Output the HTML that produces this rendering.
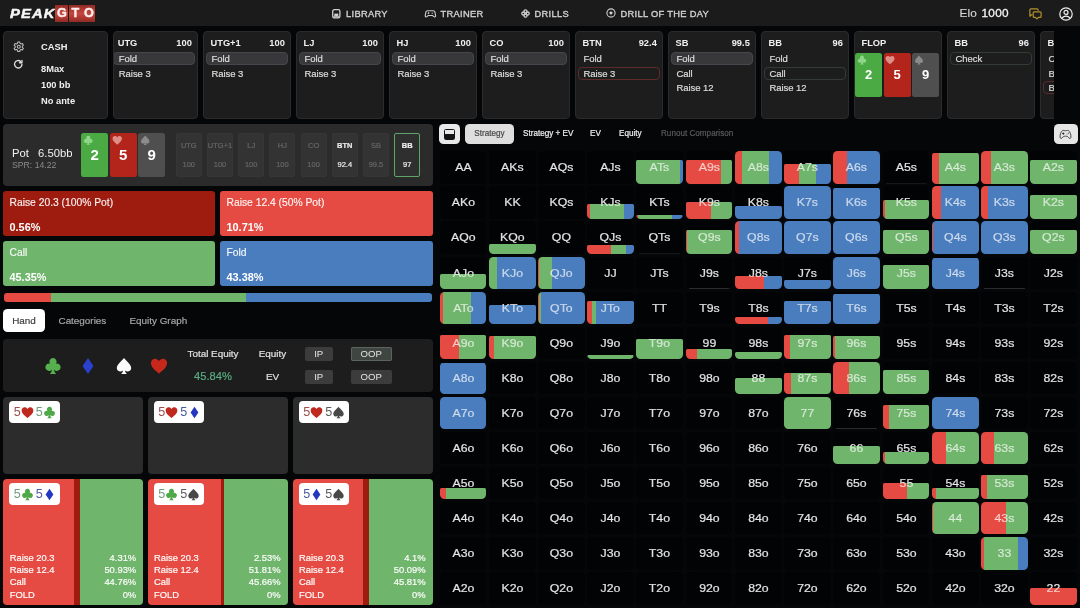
<!DOCTYPE html>
<html lang="en">
<head>
<meta charset="utf-8">
<title>PeakGTO</title>
<style>
*{box-sizing:border-box;margin:0;padding:0}
html,body{width:1080px;height:608px;overflow:hidden;background:#050608}
body{font-family:"Liberation Sans",Arial,sans-serif;color:#e6e6e6;position:relative;-webkit-font-smoothing:antialiased}
.abs{position:absolute}
svg{display:block;position:absolute;overflow:visible}
/* header */
#hdr{position:absolute;left:0;top:0;width:1080px;height:26px;background:#1b1b1c}
.logo{position:absolute;left:9.6px;top:5px;height:17px;font-weight:bold;font-size:14.5px;line-height:17px;white-space:nowrap}
.logo .pk{position:absolute;left:0;top:.4px;font-style:italic;font-size:12.8px;letter-spacing:.9px;color:#f6f6f6;transform:scaleX(1.16);transform-origin:0 50%;-webkit-text-stroke:.45px #f6f6f6}
.logo .g{position:absolute;top:0;width:13px;height:17px;background:linear-gradient(180deg,#8f2b26 0,#b63a32 30%,#c2473e 50%,#b63a32 70%,#8f2b26 100%);color:#fdf0ee;text-align:center;font-size:12.6px;line-height:17.6px;-webkit-text-stroke:.4px #fdf0ee}
.nav{position:absolute;top:0;height:26px;line-height:29.4px;font-size:9.3px;color:#d2d2d2;letter-spacing:.32px;white-space:nowrap;-webkit-text-stroke:.35px #d2d2d2}
.elo{position:absolute;left:959.5px;top:0;height:26px;line-height:26px;font-size:11.8px;color:#d6d6d6;white-space:nowrap;letter-spacing:.1px;-webkit-text-stroke:.15px}
.elo b{color:#f4f4f4;font-weight:normal;margin-left:1.2px;letter-spacing:.3px;-webkit-text-stroke:.3px #f4f4f4}
/* top cards */
.tc{position:absolute;top:31px;height:88px;width:88px;background:#1d1d1e;border:1px solid #2a2b2d;border-radius:4px;overflow:hidden}
.tc .t{position:absolute;left:6.5px;top:5px;font-size:9.3px;line-height:13px;font-weight:bold;color:#f0f0f0;white-space:nowrap}
.tc .v{position:absolute;right:5.2px;top:5px;font-size:9.3px;line-height:13px;font-weight:bold;color:#f0f0f0;white-space:nowrap}
.tc .r{position:absolute;left:1.7px;right:2.4px;height:13px;border-radius:4px;font-size:9.5px;line-height:12.5px;padding-left:4.8px;letter-spacing:-.05px;-webkit-text-stroke:.2px #dcdcdc;color:#dcdcdc;white-space:nowrap;border:1px solid transparent}
.tc .r1{top:20px}.tc .r2{top:34.5px}.tc .r3{top:49.3px}
.tc .sel{background:#38383b;border-color:#45474d}
.tc .rb{border-color:#5e2a2a}
.tc .gb{border-color:#343b36}
.fc{position:absolute;top:20.5px;width:14px;height:44.5px;border-radius:2.5px;color:#fff;font-weight:bold;font-size:13px;text-align:center;line-height:14px;padding-top:15.5px}
/* pot panel */
#pot{position:absolute;left:3px;top:124px;width:430px;height:62px;background:#2b2b2b;border-radius:4px}
.bc{position:absolute;top:9px;width:27px;height:44px;border-radius:2.5px;color:#fff;font-weight:bold;font-size:15px;text-align:center;line-height:16px;padding-top:13.5px}
.chip{position:absolute;top:9px;width:26px;height:44px;border-radius:2px;background:#333;border:1px solid #363636;color:#666;-webkit-text-stroke:.2px;font-size:7.5px;text-align:center;line-height:8px}
.chip span{position:absolute;left:-2px;right:-2px;white-space:nowrap}
.chip .a{top:8px}.chip .b{top:27px}
/* actions */
.act{position:absolute;width:212.2px;height:45px;border-radius:3px;color:#fff}
.act .l{position:absolute;left:6.5px;top:5px;font-size:10.3px;line-height:13px;white-space:nowrap;color:rgba(255,255,255,.92);-webkit-text-stroke:.15px}
.act .p{position:absolute;left:6.5px;top:29.5px;font-size:10.9px;line-height:13px;font-weight:bold;white-space:nowrap;color:#fff}
/* tabs */
.tab{position:absolute;top:309px;height:23px;line-height:23.5px;font-size:9.9px;color:#a6a6a6;white-space:nowrap;-webkit-text-stroke:.2px}
/* stats */
#stats{position:absolute;left:3px;top:338.5px;width:430px;height:53.5px;background:#1d1d1d;border-radius:4px}
.sl{position:absolute;font-size:9.9px;line-height:12.6px;-webkit-text-stroke:.2px;color:#e0e0e0;white-space:nowrap;text-align:center}
.btn{position:absolute;height:14.5px;border-radius:2px;background:#3c3c3c;color:#e4e4e4;font-size:9.6px;line-height:14.5px;text-align:center}
/* hand cards */
.hc{position:absolute;width:140px;border-radius:4px;overflow:hidden;background:#2c2c2c}
.tag{position:absolute;left:6.2px;top:4px;width:50.6px;height:22px;background:#fff;border-radius:4px}
.tag span{position:absolute;top:0;height:22px;line-height:22.5px;font-size:12.6px;width:10px;text-align:center}
.hl{position:absolute;left:6.5px;font-size:9.4px;line-height:12px;-webkit-text-stroke:.2px;color:rgba(255,255,255,.96);white-space:nowrap}
.hr{position:absolute;right:7px;font-size:9.4px;line-height:12px;-webkit-text-stroke:.2px;color:rgba(255,255,255,.96);white-space:nowrap;text-align:right}
/* matrix */
.mt{position:absolute;top:124px;height:20px;line-height:20px;font-size:8.15px;-webkit-text-stroke:.2px;color:#f0f0f0;white-space:nowrap}
.c{position:absolute;width:46.8px;height:32.45px;border-radius:4.5px;overflow:hidden;background:#020304}
.c i{position:absolute;left:0;bottom:0;width:100%;display:block;overflow:hidden;border-radius:1.5px 1.5px 0 0;font-style:normal}
.c i b{top:auto;bottom:0;height:32.45px;color:rgba(255,255,255,.64)}
.c i.th{height:1px;background:#2c2c2c;left:3px;width:41px;border-radius:0}
.c i.tf{background:#181818}
.c b{position:absolute;left:0;top:0;width:100%;height:100%;text-align:center;font-weight:normal;font-size:10.7px;line-height:33.8px;color:rgba(255,255,255,.86);transform:scaleX(1.15);-webkit-text-stroke:.2px}
#fade{position:absolute;left:1054px;top:26px;width:26px;height:96px;background:#050608}
</style>
</head>
<body>
<div id="hdr">
  <div class="logo"><span class="pk">PEAK</span>
    <span class="g" style="left:45.8px">G</span><span class="g" style="left:59.3px">T</span><span class="g" style="left:72.8px">O</span>
  </div>
  <svg style="left:332px;top:9px" width="9" height="10" viewBox="0 0 9 10"><rect x=".7" y=".7" width="7.2" height="8.2" rx="1.6" fill="none" stroke="#cfcfcf" stroke-width="1.3"/><rect x="2.3" y="4.6" width="4" height="2.6" fill="#cfcfcf"/><rect x="1.5" y="7.2" width="5.6" height="1.2" fill="#cfcfcf"/></svg>
  <div class="nav" style="left:346px">LIBRARY</div>
  <svg style="left:425px;top:9.5px" width="11" height="8" viewBox="0 0 11 8"><path d="M2.6.7h5.6c.9 0 1.5.5 1.7 1.3l.7 3.6c.2 1-.9 1.800-1.700 1.100L7.600 5.500H3.200L1.900 6.700C1.100 7.400 0 6.600.2 5.600l.7-3.600C1.100 1.200 1.700.7 2.600.7z" fill="none" stroke="#cfcfcf" stroke-width="1.100"/><path d="M2.600 3.200h1.800M3.500 2.300v1.800M6.600 3.200h1.500" stroke="#cfcfcf" stroke-width=".9" fill="none"/></svg>
  <div class="nav" style="left:440.5px">TRAINER</div>
  <svg style="left:520.5px;top:9px" width="9" height="9" viewBox="0 0 9 9"><g fill="none" stroke="#cfcfcf" stroke-width="1.300"><circle cx="4.500" cy="2.300" r="1.500"/><circle cx="4.500" cy="6.700" r="1.500"/><circle cx="2.300" cy="4.500" r="1.500"/><circle cx="6.700" cy="4.500" r="1.500"/></g></svg>
  <div class="nav" style="left:534.5px">DRILLS</div>
  <svg style="left:606.3px;top:8.4px" width="10" height="10" viewBox="0 0 10 10"><circle cx="5" cy="5" r="4.1" fill="none" stroke="#cfcfcf" stroke-width="1.1"/><path d="M5 2.6C5.3 4.1 5.9 4.700 7.400 5 5.900 5.300 5.300 5.900 5 7.400 4.700 5.900 4.100 5.300 2.600 5 4.100 4.700 4.700 4.100 5 2.600z" fill="#e6e6e6"/></svg>
  <div class="nav" style="left:620.5px">DRILL OF THE DAY</div>
  <div class="elo">Elo <b>1000</b></div>
  <svg style="left:1029px;top:7.5px" width="13" height="12" viewBox="0 0 13 12"><g fill="none" stroke="#b3922d" stroke-width="1.200" stroke-linejoin="round"><path d="M3.400 6.800H2.400L.9 8.200V1.800C.9 1.200 1.300.8 1.900.8h6.200c.6 0 1 .4 1 1v1"/><path d="M5.200 3.800h5.900c.6 0 1 .4 1 1v3.600c0 .6-.4 1-1 1H9.400l-1.500 1.500-1.500-1.500H5.200c-.6 0-1-.4-1-1V4.800c0-.6.400-1 1-1z"/></g></svg>
  <svg style="left:1058.500px;top:6.500px" width="14" height="14" viewBox="0 0 14 14"><g fill="none" stroke="#f0f0f0" stroke-width="1.200"><circle cx="7" cy="7" r="6.200"/><circle cx="7" cy="5.400" r="2"/><path d="M3 11.600c.8-1.700 2.300-2.500 4-2.500s3.200.8 4 2.500"/></g></svg>
</div>

<!-- settings card -->
<div class="tc" style="left:3px;width:104.500px">
  <svg style="left:9px;top:8.5px" width="11.5" height="11.5" viewBox="0 0 24 24"><g fill="none" stroke="#bdbdbd" stroke-width="2.200" stroke-linejoin="round"><path d="M10 2h4l.6 3 2.200 1.300 2.900-1 2 3.500-2.300 2v2.500l2.300 2-2 3.500-2.900-1L14.600 19l-.6 3h-4l-.6-3-2.200-1.300-2.900 1-2-3.500 2.300-2v-2.500l-2.300-2 2-3.500 2.900 1L9.400 5z"/><circle cx="12" cy="12" r="3.200"/></g></svg>
  <svg style="left:9.2px;top:27.2px" width="10.5" height="10.5" viewBox="0 0 24 24"><g fill="none" stroke="#e0e0e0" stroke-width="3" stroke-linecap="round" stroke-linejoin="round"><path d="M20.500 12a8.500 8.500 0 1 1-3-6.500"/><path d="M20.500 3v5.500H15"/></g></svg>
  <div class="t" style="left:37px;top:8.500px;font-size:9.3px">CASH</div>
  <div class="t" style="left:37px;top:30.5px;font-size:9.3px">8Max</div>
  <div class="t" style="left:37px;top:47px;font-size:9.3px">100 bb</div>
  <div class="t" style="left:37px;top:63px;font-size:9.3px">No ante</div>
</div>
<div class="tc" style="left:113px;width:85px"><div class="t" style="left:3.7px">UTG</div><div class="v">100</div><div class="r r1 sel" style="left:-1px">Fold</div><div class="r r2" style="left:-1px">Raise 3</div></div>
<div class="tc" style="left:203px"><div class="t">UTG+1</div><div class="v">100</div><div class="r r1 sel">Fold</div><div class="r r2">Raise 3</div></div>
<div class="tc" style="left:296px"><div class="t">LJ</div><div class="v">100</div><div class="r r1 sel">Fold</div><div class="r r2">Raise 3</div></div>
<div class="tc" style="left:389px"><div class="t">HJ</div><div class="v">100</div><div class="r r1 sel">Fold</div><div class="r r2">Raise 3</div></div>
<div class="tc" style="left:482px"><div class="t">CO</div><div class="v">100</div><div class="r r1 sel">Fold</div><div class="r r2">Raise 3</div></div>
<div class="tc" style="left:575px"><div class="t">BTN</div><div class="v">92.4</div><div class="r r1">Fold</div><div class="r r2 rb">Raise 3</div></div>
<div class="tc" style="left:668px"><div class="t">SB</div><div class="v">99.5</div><div class="r r1 sel">Fold</div><div class="r r2">Call</div><div class="r r3">Raise 12</div></div>
<div class="tc" style="left:761px"><div class="t">BB</div><div class="v">96</div><div class="r r1">Fold</div><div class="r r2 gb">Call</div><div class="r r3">Raise 12</div></div>
<div class="tc" style="left:854px"><div class="t">FLOP</div>
  <div class="fc" style="left:0;width:27px;background:#4caa44">2</div>
  <div class="fc" style="left:28.5px;width:27px;background:#b3241b">5</div>
  <div class="fc" style="left:57.2px;width:27px;background:#4f4f4f">9</div>
  <svg style="left:1.5px;top:22.5px" width="10" height="10" viewBox="0 0 20 20"><use href="#club" fill="#8fd68a"/></svg>
  <svg style="left:30px;top:22.5px" width="10" height="10" viewBox="0 0 20 20"><use href="#heart" fill="#e08e88"/></svg>
  <svg style="left:58.7px;top:22.5px" width="10" height="10" viewBox="0 0 20 20"><use href="#spade" fill="#8c8c8c"/></svg>
</div>
<div class="tc" style="left:947px"><div class="t">BB</div><div class="v">96</div><div class="r r1 gb">Check</div></div>
<div class="tc" style="left:1040px"><div class="t">BTN</div><div class="v">92.4</div><div class="r r1">Check</div><div class="r r2">Bet 2.1</div><div class="r r3 rb">Bet 4.3</div></div>
<div id="fade"></div>

<svg width="0" height="0" style="position:absolute"><defs>
<path id="club" d="M10 1.200a4 4 0 0 0-3.300 6.300A4 4 0 1 0 8.800 13.800c-.2 2-.9 3.500-2.300 5h7c-1.400-1.500-2.100-3-2.300-5a4 4 0 1 0 2.100-6.300A4 4 0 0 0 10 1.200z"/>
<path id="heart" d="M10 18.500C4.500 14.200 1 10.800 1 6.800 1 4 3.100 2 5.600 2 7.400 2 9 3 10 4.600 11 3 12.600 2 14.400 2 16.900 2 19 4 19 6.800c0 4-3.500 7.400-9 11.700z"/>
<path id="spade" d="M10 1C7 5 2 8 2 12.200c0 2.300 1.800 4 4 4 1 0 2.100-.4 2.900-1.200-.2 1.600-.9 2.800-2.200 4h6.600c-1.300-1.200-2-2.400-2.200-4 .8.800 1.900 1.200 2.900 1.200 2.200 0 4-1.700 4-4C18 8 13 5 10 1z"/>
<path id="diam" d="M10 1 16 10 10 19 4 10z"/>
</defs></svg>

<!-- pot panel -->
<div id="pot">
  <div class="abs" style="left:9px;top:21.5px;font-size:11.3px;line-height:14px;color:#f0f0f0;white-space:nowrap">Pot<span style="display:inline-block;width:9px"></span>6.50bb</div>
  <div class="abs" style="left:9px;top:34.5px;font-size:8.7px;line-height:12px;color:#8a8a8a;white-space:nowrap">SPR: 14.22</div>
  <div class="bc" style="left:78.2px;background:#4caa44">2</div>
  <div class="bc" style="left:106.6px;background:#b3241b">5</div>
  <div class="bc" style="left:135.2px;background:#4f4f4f">9</div>
  <svg style="left:80px;top:11px" width="10.5" height="10.5" viewBox="0 0 20 20"><use href="#club" fill="#8fd68a"/></svg>
  <svg style="left:108.5px;top:11px" width="10.5" height="10.5" viewBox="0 0 20 20"><use href="#heart" fill="#e08e88"/></svg>
  <svg style="left:137px;top:11px" width="10.5" height="10.5" viewBox="0 0 20 20"><use href="#spade" fill="#8c8c8c"/></svg>
  <div class="chip" style="left:172.8px"><span class="a">UTG</span><span class="b">100</span></div>
  <div class="chip" style="left:204.0px"><span class="a">UTG+1</span><span class="b">100</span></div>
  <div class="chip" style="left:235.2px"><span class="a">LJ</span><span class="b">100</span></div>
  <div class="chip" style="left:266.4px"><span class="a">HJ</span><span class="b">100</span></div>
  <div class="chip" style="left:297.6px"><span class="a">CO</span><span class="b">100</span></div>
  <div class="chip" style="left:328.8px;color:#e8e8e8"><span class="a" style="font-weight:bold">BTN</span><span class="b">92.4</span></div>
  <div class="chip" style="left:360.0px"><span class="a">SB</span><span class="b">99.5</span></div>
  <div class="chip" style="left:391.2px;color:#f0f0f0;border-color:#5fa468;background:#2f2f2f"><span class="a" style="font-weight:bold">BB</span><span class="b">97</span></div>
</div>

<!-- actions -->
<div class="act" style="left:3px;top:191px;background:#9e1b10"><div class="l">Raise 20.3 (100% Pot)</div><div class="p">0.56%</div></div>
<div class="act" style="left:220px;top:191px;width:213px;background:#e54b42"><div class="l">Raise 12.4 (50% Pot)</div><div class="p">10.71%</div></div>
<div class="act" style="left:3px;top:241px;background:#70b56c"><div class="l">Call</div><div class="p">45.35%</div></div>
<div class="act" style="left:220px;top:241px;width:213px;background:#4a7dbe"><div class="l">Fold</div><div class="p">43.38%</div></div>
<div class="abs" style="left:4px;top:293px;width:428px;height:9px;border-radius:3px;background:linear-gradient(90deg,#e54b42 0 10.95%,#70b56c 10.95% 56.62%,#4a7dbe 56.62% 100%)"></div>

<!-- tabs -->
<div class="tab" style="left:3px;width:42px;background:#fff;border-radius:4.5px;color:#404040;text-align:center">Hand</div>
<div class="tab" style="left:58.500px">Categories</div>
<div class="tab" style="left:129.500px">Equity Graph</div>

<!-- stats -->
<div id="stats">
  <svg style="left:41px;top:18px" width="18" height="18" viewBox="0 0 20 20"><use href="#club" fill="#56b04e"/></svg>
  <svg style="left:76px;top:18px" width="18" height="18" viewBox="0 0 20 20"><use href="#diam" fill="#2a41cf"/></svg>
  <svg style="left:111.500px;top:18px" width="18" height="18" viewBox="0 0 20 20"><use href="#spade" fill="#fafafa"/></svg>
  <svg style="left:147px;top:18.500px" width="18" height="18" viewBox="0 0 20 20"><use href="#heart" fill="#c6281b"/></svg>
  <div class="sl" style="left:170px;width:80px;top:9.500px">Total Equity</div>
  <div class="sl" style="left:170px;width:80px;top:30.500px;font-size:11.200px;line-height:14px;color:#58ab82">45.84%</div>
  <div class="sl" style="left:239.500px;width:60px;top:9.500px">Equity</div>
  <div class="sl" style="left:239.500px;width:60px;top:32.500px">EV</div>
  <div class="btn" style="left:301.500px;top:8px;width:28.500px">IP</div>
  <div class="btn" style="left:301.500px;top:31px;width:28.500px">IP</div>
  <div class="btn" style="left:348px;top:8px;width:40.500px;background:#3f4642;box-shadow:inset 0 0 0 1px #5b645f">OOP</div>
  <div class="btn" style="left:348px;top:31px;width:40.500px">OOP</div>
</div>

<!-- hand cards row 1 -->
<div class="hc" style="left:3.2px;top:397px;height:77px"><div class="tag"><span style="left:3px;color:#9a4f4b">5</span><svg style="left:11.5px;top:5px" width="13" height="13" viewBox="0 0 20 20"><use href="#heart" fill="#bf281c"/></svg><span style="left:25px;color:#6f9d7d">5</span><svg style="left:33.3px;top:4.5px" width="13" height="13" viewBox="0 0 20 20"><use href="#club" fill="#4fa948"/></svg></div></div>
<div class="hc" style="left:147.500px;top:397px;height:77px"><div class="tag"><span style="left:3px;color:#9a4f4b">5</span><svg style="left:11.5px;top:5px" width="13" height="13" viewBox="0 0 20 20"><use href="#heart" fill="#bf281c"/></svg><span style="left:25px;color:#4b5a9c">5</span><svg style="left:34px;top:4.5px" width="13" height="13" viewBox="0 0 20 20"><use href="#diam" fill="#2337c0"/></svg></div></div>
<div class="hc" style="left:292.500px;top:397px;height:77px"><div class="tag"><span style="left:3px;color:#9a4f4b">5</span><svg style="left:11.5px;top:5px" width="13" height="13" viewBox="0 0 20 20"><use href="#heart" fill="#bf281c"/></svg><span style="left:25px;color:#5a5a5a">5</span><svg style="left:33.3px;top:4.5px" width="13" height="13" viewBox="0 0 20 20"><use href="#spade" fill="#484848"/></svg></div></div>
<!-- hand cards row 2 -->
<div class="hc" style="left:3.2px;top:479px;height:125.500px;background:linear-gradient(90deg,#e54b42 0 50.930%,#9e1b10 50.930% 55.240%,#70b56c 55.240% 100%)"><div class="tag"><span style="left:3px;color:#6f9d7d">5</span><svg style="left:11.5px;top:4.5px" width="13" height="13" viewBox="0 0 20 20"><use href="#club" fill="#4fa948"/></svg><span style="left:25px;color:#4b5a9c">5</span><svg style="left:34px;top:4.5px" width="13" height="13" viewBox="0 0 20 20"><use href="#diam" fill="#2337c0"/></svg></div>
  <div class="hl" style="top:72.5px">Raise 20.3</div><div class="hr" style="top:72.5px">4.31%</div>
  <div class="hl" style="top:85px">Raise 12.4</div><div class="hr" style="top:85px">50.93%</div>
  <div class="hl" style="top:97.4px">Call</div><div class="hr" style="top:97.4px">44.76%</div>
  <div class="hl" style="top:109.8px">FOLD</div><div class="hr" style="top:109.8px">0%</div>
</div>
<div class="hc" style="left:147.500px;top:479px;height:125.500px;background:linear-gradient(90deg,#e54b42 0 51.810%,#9e1b10 51.810% 54.340%,#70b56c 54.340% 100%)"><div class="tag"><span style="left:3px;color:#6f9d7d">5</span><svg style="left:11.5px;top:4.5px" width="13" height="13" viewBox="0 0 20 20"><use href="#club" fill="#4fa948"/></svg><span style="left:25px;color:#5a5a5a">5</span><svg style="left:33.3px;top:4.5px" width="13" height="13" viewBox="0 0 20 20"><use href="#spade" fill="#484848"/></svg></div>
  <div class="hl" style="top:72.5px">Raise 20.3</div><div class="hr" style="top:72.5px">2.53%</div>
  <div class="hl" style="top:85px">Raise 12.4</div><div class="hr" style="top:85px">51.81%</div>
  <div class="hl" style="top:97.4px">Call</div><div class="hr" style="top:97.4px">45.66%</div>
  <div class="hl" style="top:109.8px">FOLD</div><div class="hr" style="top:109.8px">0%</div>
</div>
<div class="hc" style="left:292.500px;top:479px;height:125.500px;background:linear-gradient(90deg,#e54b42 0 50.090%,#9e1b10 50.090% 54.190%,#70b56c 54.190% 100%)"><div class="tag"><span style="left:3px;color:#4b5a9c">5</span><svg style="left:11.5px;top:4.5px" width="13" height="13" viewBox="0 0 20 20"><use href="#diam" fill="#2337c0"/></svg><span style="left:25px;color:#5a5a5a">5</span><svg style="left:33.3px;top:4.5px" width="13" height="13" viewBox="0 0 20 20"><use href="#spade" fill="#484848"/></svg></div>
  <div class="hl" style="top:72.5px">Raise 20.3</div><div class="hr" style="top:72.5px">4.1%</div>
  <div class="hl" style="top:85px">Raise 12.4</div><div class="hr" style="top:85px">50.09%</div>
  <div class="hl" style="top:97.4px">Call</div><div class="hr" style="top:97.4px">45.81%</div>
  <div class="hl" style="top:109.8px">FOLD</div><div class="hr" style="top:109.8px">0%</div>
</div>

<!-- matrix toolbar -->
<div class="abs" style="left:439.2px;top:124px;width:20.8px;height:20px;background:#e9e9e9;border-radius:4.5px"><div class="abs" style="left:4.500px;top:4.500px;width:11.500px;height:11px;border:1.200px solid #141414;border-radius:1.500px;background:linear-gradient(180deg,#e9e9e9 0 42%,#141414 42% 100%)"></div></div>
<div class="mt" style="left:465px;width:49px;background:#dedede;border-radius:4.5px;color:#484848;text-align:center">Strategy</div>
<div class="mt" style="left:523px">Strategy + EV</div>
<div class="mt" style="left:590px">EV</div>
<div class="mt" style="left:619px">Equity</div>
<div class="mt" style="left:661px;color:#5a5a5a">Runout Comparison</div>
<div class="abs" style="left:1054px;top:124px;width:23.500px;height:20px;background:#e6e6e6;border-radius:4.500px"><svg style="left:5.3px;top:4.9px" width="13" height="10.800" viewBox="0 0 24 20"><path d="M6.500 3C8 2 9 3.200 12 3.200S16 2 17.500 3C20.500 4.500 22.500 11 22 15.500 21.800 17.800 19.500 18.200 18.300 16.500 17 14.600 15.500 13.300 12 13.300S7 14.600 5.700 16.500C4.500 18.200 2.200 17.800 2 15.500 1.500 11 3.500 4.500 6.500 3z" fill="none" stroke="#333" stroke-width="1.700" stroke-linejoin="round"/><path d="M6 8.500h4M8 6.500v4" stroke="#222" stroke-width="1.800" fill="none"/><circle cx="15" cy="9.300" r="1" fill="#555"/><circle cx="17.500" cy="7.700" r="1" fill="#555"/></svg></div>

<!-- matrix -->
<div class="c" style="left:439.50px;top:151.35px"><b>AA</b></div>
<div class="c" style="left:488.73px;top:151.35px"><b>AKs</b></div>
<div class="c" style="left:537.96px;top:151.35px"><b>AQs</b></div>
<div class="c" style="left:587.19px;top:151.35px"><b>AJs</b></div>
<div class="c" style="left:636.42px;top:151.35px"><b>ATs</b><i style="height:23.4px;background:linear-gradient(90deg,#70b56c 0% 93%,#4a7dbe 93% 100%)"><b>ATs</b></i></div>
<div class="c" style="left:685.65px;top:151.35px"><b>A9s</b><i style="height:23.7px;background:linear-gradient(90deg,#e54b42 0% 77%,#70b56c 77% 100%)"><b>A9s</b></i></div>
<div class="c" style="left:734.88px;top:151.35px"><b>A8s</b><i style="height:32.5px;background:linear-gradient(90deg,#e54b42 0% 15%,#70b56c 15% 72%,#4a7dbe 72% 100%)"><b>A8s</b></i></div>
<div class="c" style="left:784.11px;top:151.35px"><b>A7s</b><i style="height:19.8px;background:linear-gradient(90deg,#e54b42 0% 31%,#70b56c 31% 68%,#4a7dbe 68% 100%)"><b>A7s</b></i></div>
<div class="c" style="left:833.34px;top:151.35px"><b>A6s</b><i style="height:32.5px;background:linear-gradient(90deg,#e54b42 0% 29%,#4a7dbe 29% 100%)"><b>A6s</b></i></div>
<div class="c" style="left:882.57px;top:151.35px"><b>A5s</b><i class="th tf"></i></div>
<div class="c" style="left:931.80px;top:151.35px"><b>A4s</b><i style="height:30.8px;background:linear-gradient(90deg,#e54b42 0% 14%,#70b56c 14% 100%)"><b>A4s</b></i></div>
<div class="c" style="left:981.03px;top:151.35px"><b>A3s</b><i style="height:32.5px;background:linear-gradient(90deg,#e54b42 0% 22%,#70b56c 22% 100%)"><b>A3s</b></i></div>
<div class="c" style="left:1030.26px;top:151.35px"><b>A2s</b><i style="height:24.0px;background:#70b56c"><b>A2s</b></i></div>
<div class="c" style="left:439.50px;top:186.42px"><b>AKo</b></div>
<div class="c" style="left:488.73px;top:186.42px"><b>KK</b></div>
<div class="c" style="left:537.96px;top:186.42px"><b>KQs</b></div>
<div class="c" style="left:587.19px;top:186.42px"><b>KJs</b><i style="height:14.6px;background:linear-gradient(90deg,#e54b42 0% 6%,#70b56c 6% 79%,#4a7dbe 79% 100%)"><b>KJs</b></i></div>
<div class="c" style="left:636.42px;top:186.42px"><b>KTs</b><i style="height:4.1px;background:linear-gradient(90deg,#e54b42 0% 5%,#70b56c 5% 76%,#4a7dbe 76% 100%)"><b>KTs</b></i></div>
<div class="c" style="left:685.65px;top:186.42px"><b>K9s</b><i style="height:16.5px;background:linear-gradient(90deg,#e54b42 0% 55%,#70b56c 55% 100%)"><b>K9s</b></i></div>
<div class="c" style="left:734.88px;top:186.42px"><b>K8s</b><i style="height:13.3px;background:#4a7dbe"><b>K8s</b></i></div>
<div class="c" style="left:784.11px;top:186.42px"><b>K7s</b><i style="height:32.5px;background:#4a7dbe"><b>K7s</b></i></div>
<div class="c" style="left:833.34px;top:186.42px"><b>K6s</b><i style="height:30.8px;background:#4a7dbe"><b>K6s</b></i></div>
<div class="c" style="left:882.57px;top:186.42px"><b>K5s</b><i style="height:18.8px;background:linear-gradient(90deg,#e54b42 0% 4.5%,#70b56c 4.5% 100%)"><b>K5s</b></i></div>
<div class="c" style="left:931.80px;top:186.42px"><b>K4s</b><i style="height:32.5px;background:linear-gradient(90deg,#e54b42 0% 19%,#4a7dbe 19% 100%)"><b>K4s</b></i></div>
<div class="c" style="left:981.03px;top:186.42px"><b>K3s</b><i style="height:32.5px;background:linear-gradient(90deg,#e54b42 0% 15%,#4a7dbe 15% 100%)"><b>K3s</b></i></div>
<div class="c" style="left:1030.26px;top:186.42px"><b>K2s</b><i style="height:24.0px;background:#70b56c"><b>K2s</b></i></div>
<div class="c" style="left:439.50px;top:221.49px"><b>AQo</b></div>
<div class="c" style="left:488.73px;top:221.49px"><b>KQo</b><i style="height:9.7px;background:#70b56c"><b>KQo</b></i></div>
<div class="c" style="left:537.96px;top:221.49px"><b>QQ</b></div>
<div class="c" style="left:587.19px;top:221.49px"><b>QJs</b><i style="height:9.4px;background:linear-gradient(90deg,#e54b42 0% 51%,#70b56c 51% 83%,#4a7dbe 83% 100%)"><b>QJs</b></i></div>
<div class="c" style="left:636.42px;top:221.49px"><b>QTs</b><i class="th tf"></i></div>
<div class="c" style="left:685.65px;top:221.49px"><b>Q9s</b><i style="height:24.3px;background:linear-gradient(90deg,#e54b42 0% 1.5%,#70b56c 1.5% 100%)"><b>Q9s</b></i></div>
<div class="c" style="left:734.88px;top:221.49px"><b>Q8s</b><i style="height:32.5px;background:linear-gradient(90deg,#e54b42 0% 9%,#4a7dbe 9% 100%)"><b>Q8s</b></i></div>
<div class="c" style="left:784.11px;top:221.49px"><b>Q7s</b><i style="height:32.5px;background:#4a7dbe"><b>Q7s</b></i></div>
<div class="c" style="left:833.34px;top:221.49px"><b>Q6s</b><i style="height:32.5px;background:#4a7dbe"><b>Q6s</b></i></div>
<div class="c" style="left:882.57px;top:221.49px"><b>Q5s</b><i style="height:24.3px;background:#70b56c"><b>Q5s</b></i></div>
<div class="c" style="left:931.80px;top:221.49px"><b>Q4s</b><i style="height:32.5px;background:linear-gradient(90deg,#e54b42 0% 2%,#4a7dbe 2% 100%)"><b>Q4s</b></i></div>
<div class="c" style="left:981.03px;top:221.49px"><b>Q3s</b><i style="height:32.5px;background:#4a7dbe"><b>Q3s</b></i></div>
<div class="c" style="left:1030.26px;top:221.49px"><b>Q2s</b><i style="height:24.3px;background:#70b56c"><b>Q2s</b></i></div>
<div class="c" style="left:439.50px;top:256.56px"><b>AJo</b><i style="height:15.3px;background:#70b56c"><b>AJo</b></i></div>
<div class="c" style="left:488.73px;top:256.56px"><b>KJo</b><i style="height:32.5px;background:linear-gradient(90deg,#70b56c 0% 17.5%,#4a7dbe 17.5% 100%)"><b>KJo</b></i></div>
<div class="c" style="left:537.96px;top:256.56px"><b>QJo</b><i style="height:32.5px;background:linear-gradient(90deg,#e54b42 0% 2%,#70b56c 2% 30%,#4a7dbe 30% 100%)"><b>QJo</b></i></div>
<div class="c" style="left:587.19px;top:256.56px"><b>JJ</b></div>
<div class="c" style="left:636.42px;top:256.56px"><b>JTs</b></div>
<div class="c" style="left:685.65px;top:256.56px"><b>J9s</b><i class="th"></i></div>
<div class="c" style="left:734.88px;top:256.56px"><b>J8s</b><i style="height:12.7px;background:linear-gradient(90deg,#e54b42 0% 62%,#4a7dbe 62% 100%)"><b>J8s</b></i></div>
<div class="c" style="left:784.11px;top:256.56px"><b>J7s</b><i style="height:9.1px;background:#4a7dbe"><b>J7s</b></i></div>
<div class="c" style="left:833.34px;top:256.56px"><b>J6s</b><i style="height:32.5px;background:#4a7dbe"><b>J6s</b></i></div>
<div class="c" style="left:882.57px;top:256.56px"><b>J5s</b><i style="height:23.7px;background:#70b56c"><b>J5s</b></i></div>
<div class="c" style="left:931.80px;top:256.56px"><b>J4s</b><i style="height:30.8px;background:#4a7dbe"><b>J4s</b></i></div>
<div class="c" style="left:981.03px;top:256.56px"><b>J3s</b><i class="th"></i></div>
<div class="c" style="left:1030.26px;top:256.56px"><b>J2s</b></div>
<div class="c" style="left:439.50px;top:291.63px"><b>ATo</b><i style="height:32.5px;background:linear-gradient(90deg,#e54b42 0% 6%,#70b56c 6% 68%,#4a7dbe 68% 100%)"><b>ATo</b></i></div>
<div class="c" style="left:488.73px;top:291.63px"><b>KTo</b><i style="height:18.8px;background:#4a7dbe"><b>KTo</b></i></div>
<div class="c" style="left:537.96px;top:291.63px"><b>QTo</b><i style="height:32.5px;background:linear-gradient(90deg,#e54b42 0% 2%,#70b56c 2% 6%,#4a7dbe 6% 100%)"><b>QTo</b></i></div>
<div class="c" style="left:587.19px;top:291.63px"><b>JTo</b><i style="height:22.7px;background:linear-gradient(90deg,#e54b42 0% 10.5%,#70b56c 10.5% 19.5%,#4a7dbe 19.5% 100%)"><b>JTo</b></i></div>
<div class="c" style="left:636.42px;top:291.63px"><b>TT</b></div>
<div class="c" style="left:685.65px;top:291.63px"><b>T9s</b></div>
<div class="c" style="left:734.88px;top:291.63px"><b>T8s</b><i style="height:7.1px;background:linear-gradient(90deg,#e54b42 0% 70%,#4a7dbe 70% 100%)"><b>T8s</b></i></div>
<div class="c" style="left:784.11px;top:291.63px"><b>T7s</b><i style="height:23.0px;background:#4a7dbe"><b>T7s</b></i></div>
<div class="c" style="left:833.34px;top:291.63px"><b>T6s</b><i style="height:30.2px;background:#4a7dbe"><b>T6s</b></i></div>
<div class="c" style="left:882.57px;top:291.63px"><b>T5s</b></div>
<div class="c" style="left:931.80px;top:291.63px"><b>T4s</b></div>
<div class="c" style="left:981.03px;top:291.63px"><b>T3s</b></div>
<div class="c" style="left:1030.26px;top:291.63px"><b>T2s</b></div>
<div class="c" style="left:439.50px;top:326.70px"><b>A9o</b><i style="height:24.3px;background:linear-gradient(90deg,#e54b42 0% 42%,#70b56c 42% 100%)"><b>A9o</b></i></div>
<div class="c" style="left:488.73px;top:326.70px"><b>K9o</b><i style="height:23.0px;background:linear-gradient(90deg,#e54b42 0% 10.5%,#70b56c 10.5% 100%)"><b>K9o</b></i></div>
<div class="c" style="left:537.96px;top:326.70px"><b>Q9o</b></div>
<div class="c" style="left:587.19px;top:326.70px"><b>J9o</b><i style="height:4.2px;background:#70b56c"><b>J9o</b></i></div>
<div class="c" style="left:636.42px;top:326.70px"><b>T9o</b><i style="height:20.1px;background:#70b56c"><b>T9o</b></i></div>
<div class="c" style="left:685.65px;top:326.70px"><b>99</b><i style="height:10.4px;background:linear-gradient(90deg,#e54b42 0% 23%,#70b56c 23% 100%)"><b>99</b></i></div>
<div class="c" style="left:734.88px;top:326.70px"><b>98s</b><i style="height:7.1px;background:#70b56c"><b>98s</b></i></div>
<div class="c" style="left:784.11px;top:326.70px"><b>97s</b><i style="height:24.3px;background:linear-gradient(90deg,#e54b42 0% 12%,#70b56c 12% 100%)"><b>97s</b></i></div>
<div class="c" style="left:833.34px;top:326.70px"><b>96s</b><i style="height:22.7px;background:linear-gradient(90deg,#e54b42 0% 5%,#70b56c 5% 100%)"><b>96s</b></i></div>
<div class="c" style="left:882.57px;top:326.70px"><b>95s</b></div>
<div class="c" style="left:931.80px;top:326.70px"><b>94s</b></div>
<div class="c" style="left:981.03px;top:326.70px"><b>93s</b></div>
<div class="c" style="left:1030.26px;top:326.70px"><b>92s</b></div>
<div class="c" style="left:439.50px;top:361.77px"><b>A8o</b><i style="height:31.5px;background:#4a7dbe"><b>A8o</b></i></div>
<div class="c" style="left:488.73px;top:361.77px"><b>K8o</b></div>
<div class="c" style="left:537.96px;top:361.77px"><b>Q8o</b></div>
<div class="c" style="left:587.19px;top:361.77px"><b>J8o</b></div>
<div class="c" style="left:636.42px;top:361.77px"><b>T8o</b></div>
<div class="c" style="left:685.65px;top:361.77px"><b>98o</b></div>
<div class="c" style="left:734.88px;top:361.77px"><b>88</b><i style="height:15.9px;background:#70b56c"><b>88</b></i></div>
<div class="c" style="left:784.11px;top:361.77px"><b>87s</b><i style="height:21.4px;background:linear-gradient(90deg,#e54b42 0% 14%,#70b56c 14% 100%)"><b>87s</b></i></div>
<div class="c" style="left:833.34px;top:361.77px"><b>86s</b><i style="height:32.5px;background:linear-gradient(90deg,#e54b42 0% 34%,#70b56c 34% 100%)"><b>86s</b></i></div>
<div class="c" style="left:882.57px;top:361.77px"><b>85s</b><i style="height:24.3px;background:#70b56c"><b>85s</b></i></div>
<div class="c" style="left:931.80px;top:361.77px"><b>84s</b></div>
<div class="c" style="left:981.03px;top:361.77px"><b>83s</b></div>
<div class="c" style="left:1030.26px;top:361.77px"><b>82s</b></div>
<div class="c" style="left:439.50px;top:396.84px"><b>A7o</b><i style="height:32.5px;background:#4a7dbe"><b>A7o</b></i></div>
<div class="c" style="left:488.73px;top:396.84px"><b>K7o</b></div>
<div class="c" style="left:537.96px;top:396.84px"><b>Q7o</b></div>
<div class="c" style="left:587.19px;top:396.84px"><b>J7o</b></div>
<div class="c" style="left:636.42px;top:396.84px"><b>T7o</b></div>
<div class="c" style="left:685.65px;top:396.84px"><b>97o</b></div>
<div class="c" style="left:734.88px;top:396.84px"><b>87o</b></div>
<div class="c" style="left:784.11px;top:396.84px"><b>77</b><i style="height:32.5px;background:linear-gradient(90deg,#e54b42 0% 1%,#70b56c 1% 100%)"><b>77</b></i></div>
<div class="c" style="left:833.34px;top:396.84px"><b>76s</b><i class="th"></i></div>
<div class="c" style="left:882.57px;top:396.84px"><b>75s</b><i style="height:24.3px;background:linear-gradient(90deg,#e54b42 0% 13%,#70b56c 13% 100%)"><b>75s</b></i></div>
<div class="c" style="left:931.80px;top:396.84px"><b>74s</b><i style="height:32.5px;background:#4a7dbe"><b>74s</b></i></div>
<div class="c" style="left:981.03px;top:396.84px"><b>73s</b></div>
<div class="c" style="left:1030.26px;top:396.84px"><b>72s</b></div>
<div class="c" style="left:439.50px;top:431.91px"><b>A6o</b></div>
<div class="c" style="left:488.73px;top:431.91px"><b>K6o</b></div>
<div class="c" style="left:537.96px;top:431.91px"><b>Q6o</b></div>
<div class="c" style="left:587.19px;top:431.91px"><b>J6o</b></div>
<div class="c" style="left:636.42px;top:431.91px"><b>T6o</b></div>
<div class="c" style="left:685.65px;top:431.91px"><b>96o</b></div>
<div class="c" style="left:734.88px;top:431.91px"><b>86o</b></div>
<div class="c" style="left:784.11px;top:431.91px"><b>76o</b></div>
<div class="c" style="left:833.34px;top:431.91px"><b>66</b><i style="height:18.5px;background:#70b56c"><b>66</b></i></div>
<div class="c" style="left:882.57px;top:431.91px"><b>65s</b><i style="height:12.0px;background:linear-gradient(90deg,#e54b42 0% 4%,#70b56c 4% 100%)"><b>65s</b></i></div>
<div class="c" style="left:931.80px;top:431.91px"><b>64s</b><i style="height:32.5px;background:linear-gradient(90deg,#e54b42 0% 29%,#70b56c 29% 100%)"><b>64s</b></i></div>
<div class="c" style="left:981.03px;top:431.91px"><b>63s</b><i style="height:32.5px;background:linear-gradient(90deg,#e54b42 0% 28%,#70b56c 28% 100%)"><b>63s</b></i></div>
<div class="c" style="left:1030.26px;top:431.91px"><b>62s</b></div>
<div class="c" style="left:439.50px;top:466.98px"><b>A5o</b><i style="height:11.4px;background:linear-gradient(90deg,#e54b42 0% 13%,#70b56c 13% 100%)"><b>A5o</b></i></div>
<div class="c" style="left:488.73px;top:466.98px"><b>K5o</b></div>
<div class="c" style="left:537.96px;top:466.98px"><b>Q5o</b></div>
<div class="c" style="left:587.19px;top:466.98px"><b>J5o</b></div>
<div class="c" style="left:636.42px;top:466.98px"><b>T5o</b></div>
<div class="c" style="left:685.65px;top:466.98px"><b>95o</b></div>
<div class="c" style="left:734.88px;top:466.98px"><b>85o</b></div>
<div class="c" style="left:784.11px;top:466.98px"><b>75o</b></div>
<div class="c" style="left:833.34px;top:466.98px"><b>65o</b></div>
<div class="c" style="left:882.57px;top:466.98px"><b>55</b><i style="height:16.5px;background:linear-gradient(90deg,#e54b42 0% 52%,#70b56c 52% 100%)"><b>55</b></i></div>
<div class="c" style="left:931.80px;top:466.98px"><b>54s</b><i style="height:11.7px;background:linear-gradient(90deg,#e54b42 0% 9%,#70b56c 9% 100%)"><b>54s</b></i></div>
<div class="c" style="left:981.03px;top:466.98px"><b>53s</b><i style="height:24.7px;background:linear-gradient(90deg,#e54b42 0% 13.5%,#70b56c 13.5% 100%)"><b>53s</b></i></div>
<div class="c" style="left:1030.26px;top:466.98px"><b>52s</b></div>
<div class="c" style="left:439.50px;top:502.05px"><b>A4o</b></div>
<div class="c" style="left:488.73px;top:502.05px"><b>K4o</b></div>
<div class="c" style="left:537.96px;top:502.05px"><b>Q4o</b></div>
<div class="c" style="left:587.19px;top:502.05px"><b>J4o</b></div>
<div class="c" style="left:636.42px;top:502.05px"><b>T4o</b></div>
<div class="c" style="left:685.65px;top:502.05px"><b>94o</b></div>
<div class="c" style="left:734.88px;top:502.05px"><b>84o</b></div>
<div class="c" style="left:784.11px;top:502.05px"><b>74o</b></div>
<div class="c" style="left:833.34px;top:502.05px"><b>64o</b></div>
<div class="c" style="left:882.57px;top:502.05px"><b>54o</b></div>
<div class="c" style="left:931.80px;top:502.05px"><b>44</b><i style="height:32.5px;background:linear-gradient(90deg,#e54b42 0% 3%,#70b56c 3% 100%)"><b>44</b></i></div>
<div class="c" style="left:981.03px;top:502.05px"><b>43s</b><i style="height:32.5px;background:linear-gradient(90deg,#e54b42 0% 53.5%,#70b56c 53.5% 100%)"><b>43s</b></i></div>
<div class="c" style="left:1030.26px;top:502.05px"><b>42s</b></div>
<div class="c" style="left:439.50px;top:537.12px"><b>A3o</b></div>
<div class="c" style="left:488.73px;top:537.12px"><b>K3o</b></div>
<div class="c" style="left:537.96px;top:537.12px"><b>Q3o</b></div>
<div class="c" style="left:587.19px;top:537.12px"><b>J3o</b></div>
<div class="c" style="left:636.42px;top:537.12px"><b>T3o</b></div>
<div class="c" style="left:685.65px;top:537.12px"><b>93o</b></div>
<div class="c" style="left:734.88px;top:537.12px"><b>83o</b></div>
<div class="c" style="left:784.11px;top:537.12px"><b>73o</b></div>
<div class="c" style="left:833.34px;top:537.12px"><b>63o</b></div>
<div class="c" style="left:882.57px;top:537.12px"><b>53o</b></div>
<div class="c" style="left:931.80px;top:537.12px"><b>43o</b></div>
<div class="c" style="left:981.03px;top:537.12px"><b>33</b><i style="height:32.5px;background:linear-gradient(90deg,#e54b42 0% 6.5%,#70b56c 6.5% 78.5%,#4a7dbe 78.5% 100%)"><b>33</b></i></div>
<div class="c" style="left:1030.26px;top:537.12px"><b>32s</b></div>
<div class="c" style="left:439.50px;top:572.19px"><b>A2o</b></div>
<div class="c" style="left:488.73px;top:572.19px"><b>K2o</b></div>
<div class="c" style="left:537.96px;top:572.19px"><b>Q2o</b></div>
<div class="c" style="left:587.19px;top:572.19px"><b>J2o</b></div>
<div class="c" style="left:636.42px;top:572.19px"><b>T2o</b></div>
<div class="c" style="left:685.65px;top:572.19px"><b>92o</b></div>
<div class="c" style="left:734.88px;top:572.19px"><b>82o</b></div>
<div class="c" style="left:784.11px;top:572.19px"><b>72o</b></div>
<div class="c" style="left:833.34px;top:572.19px"><b>62o</b></div>
<div class="c" style="left:882.57px;top:572.19px"><b>52o</b></div>
<div class="c" style="left:931.80px;top:572.19px"><b>42o</b></div>
<div class="c" style="left:981.03px;top:572.19px"><b>32o</b></div>
<div class="c" style="left:1030.26px;top:572.19px"><b>22</b><i style="height:16.5px;background:#e54b42"><b>22</b></i></div>
</body>
</html>
